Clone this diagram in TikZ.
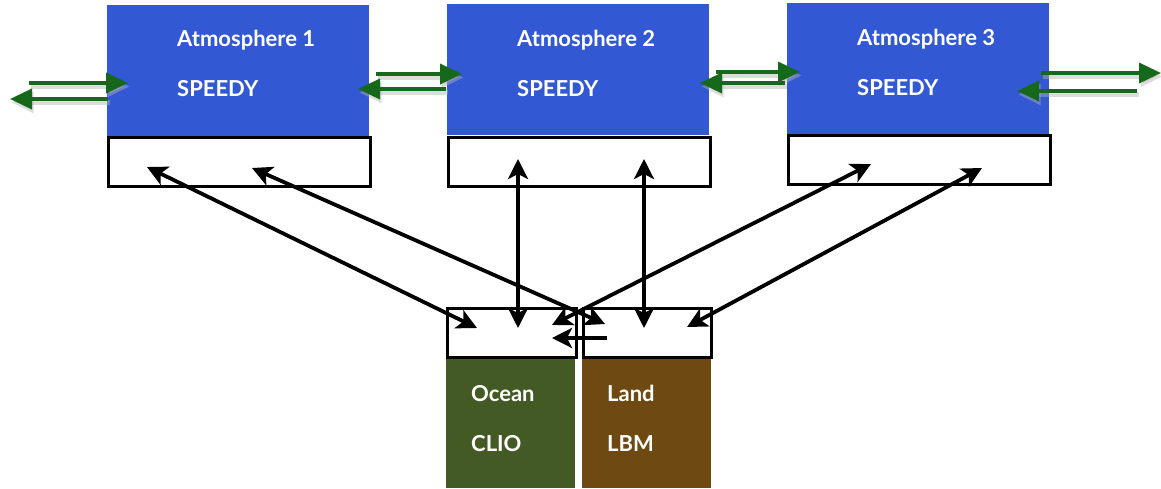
\documentclass[tikz,border=0pt]{standalone}
\usepackage{fontspec}
\setmainfont{Lato}
\usetikzlibrary{arrows.meta}
\definecolor{atmblue}{RGB}{51,88,212}
\definecolor{oceangreen}{RGB}{67,90,36}
\definecolor{landbrown}{RGB}{110,74,18}
\definecolor{arrgreen}{RGB}{22,104,26}
\tikzset{
  atmbox/.style={draw=none,fill=atmblue,minimum width=262pt,minimum height=131pt,anchor=north west,inner sep=0pt},
  cplbox/.style={draw=black,line width=3.2pt,fill=white,minimum width=#1,minimum height=49pt,anchor=north west,inner sep=0pt},
  compbox/.style={draw=none,fill=#1,minimum width=129pt,minimum height=132pt,anchor=north west,inner sep=0pt},
  lbl/.style={text=white,font=\bfseries\fontsize{22}{25}\selectfont,anchor=base west,inner sep=0pt},
  bhead/.tip={Stealth[length=20pt,width=20pt,inset=5pt]},
  bidir/.style={line width=3.8pt,bhead-bhead},
  onedir/.style={line width=3.8pt,-bhead},
  ghead/.tip={Triangle[length=22pt,width=20pt]},
  garrow/.style={line width=3.6pt,draw=arrgreen,-ghead},
  gshadow/.style={line width=5pt,draw=black!30,opacity=0.45,-ghead}
}
\begin{document}
\begin{tikzpicture}[x=1pt,y=-1pt]
\useasboundingbox (0,0) rectangle (1161,488);
% atmosphere boxes
\node[atmbox] (A1) at (107,5) {};
\node[atmbox] (A2) at (447,4) {};
\node[atmbox] (A3) at (787,3) {};
\node[cplbox=262pt] (W1) at (107,136) {};
\node[cplbox=262pt] (W2) at (447,136) {};
\node[cplbox=262pt] (W3) at (787,134) {};
% ocean / land
\node[compbox=oceangreen] (O) at (446,356) {};
\node[compbox=landbrown] (L) at (582,356) {};
\node[cplbox=129pt] (WO) at (446,307) {};
\node[cplbox=128pt] (WL) at (582,307) {};
% labels
\node[lbl] (t1) at (177,46) {Atmosphere 1};
\node[lbl] (s1) at (177,96) {SPEEDY};
\node[lbl] (t2) at (517,46) {Atmosphere 2};
\node[lbl] (s2) at (517,96) {SPEEDY};
\node[lbl] (t3) at (857,45) {Atmosphere 3};
\node[lbl] (s3) at (857,95) {SPEEDY};
\node[lbl] (to) at (471,401) {Ocean};
\node[lbl] (so) at (471,451) {CLIO};
\node[lbl] (tl) at (607,401) {Land};
\node[lbl] (sl) at (607,451) {LBM};
% coupling points
\coordinate (p1a) at (147,167);
\coordinate (p1b) at (252,168);
\coordinate (p2a) at (518,159);
\coordinate (p2b) at (644,159);
\coordinate (p3a) at (871,164);
\coordinate (p3b) at (982,168);
\coordinate (o1) at (477,328);
\coordinate (o2) at (518,328);
\coordinate (o3) at (552,325);
\coordinate (l1) at (605,324);
\coordinate (l2) at (644,328);
\coordinate (l3) at (687,327);
\coordinate (ls) at (607,338);
\coordinate (os) at (552,338);
\draw[bidir] (p1a) -- (o1);
\draw[bidir] (p1b) -- (l1);
\draw[bidir] (p2a) -- (o2);
\draw[bidir] (p2b) -- (l2);
\draw[bidir] (p3a) -- (o3);
\draw[bidir] (p3b) -- (l3);
\draw[onedir] (ls) -- (os);
% green exchange arrows
\coordinate (g1s) at (29,83);   \coordinate (g1e) at (128,83);
\coordinate (g2s) at (108,99);  \coordinate (g2e) at (10,99);
\coordinate (g3s) at (376,74);  \coordinate (g3e) at (462,74);
\coordinate (g4s) at (446,89);  \coordinate (g4e) at (358,89);
\coordinate (g5s) at (716,72);  \coordinate (g5e) at (800,72);
\coordinate (g6s) at (785,83);  \coordinate (g6e) at (700,83);
\coordinate (g7s) at (1041,73); \coordinate (g7e) at (1161,73);
\coordinate (g8s) at (1137,91); \coordinate (g8e) at (1017,91);
\foreach \a/\b in {g1s/g1e,g2s/g2e,g3s/g3e,g4s/g4e,g5s/g5e,g6s/g6e,g7s/g7e,g8s/g8e}{
  \draw[gshadow] ([shift={(1.5,3.5)}]\a) -- ([shift={(1.5,3.5)}]\b);
}
\foreach \a/\b in {g1s/g1e,g2s/g2e,g3s/g3e,g4s/g4e,g5s/g5e,g6s/g6e,g7s/g7e,g8s/g8e}{
  \draw[garrow] (\a) -- (\b);
}
\end{tikzpicture}
\end{document}
